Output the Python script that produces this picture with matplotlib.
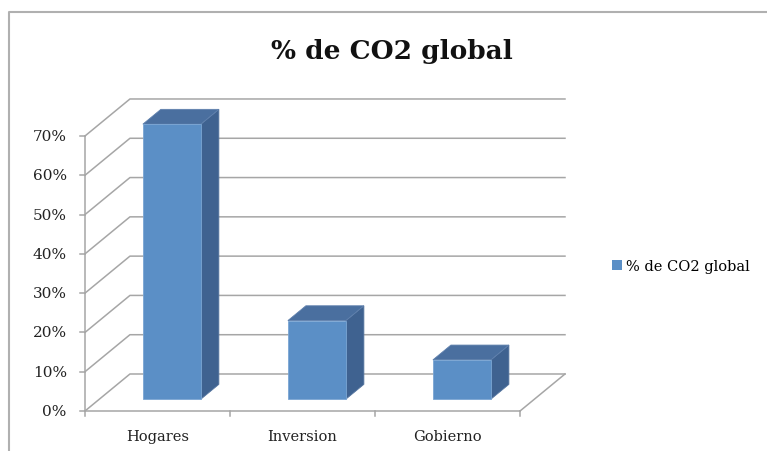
import matplotlib.pyplot as plt
from matplotlib.patches import Polygon, Patch
from matplotlib.lines import Line2D

# data
categories = ['Hogares', 'Inversion', 'Gobierno']
values = [0.70, 0.20, 0.10]
series_name = '% de CO2 global'
yticks = [0.0, 0.1, 0.2, 0.3, 0.4, 0.5, 0.6, 0.7]
ytick_labels = ['0%', '10%', '20%', '30%', '40%', '50%', '60%', '70%']

# oblique 3d look: depth offset in data units
DX, DY = 0.31, 0.0942
BAR_W = 0.40
BAR_D0, BAR_D1 = 0.32, 0.72

FRONT = '#5B8FC6'
TOP = '#4A6F9F'
SIDE = '#3F6290'
GRID = '#A6A6A6'
FONT = 'DejaVu Serif'

def proj(x, v, d):
    return (x + d * DX, v + d * DY)

fig = plt.figure(figsize=(7.67, 4.52), dpi=100)
ax = fig.add_axes([0, 0, 1, 1])
ax.set_xlim(-1.086, 4.203)
ax.set_ylim(-0.1018, 1.0487)
ax.axis('off')

x0, x1 = -0.5, len(categories) - 0.5

# walls and floor
for v in yticks:
    ax.plot(*zip(proj(x0, v, 0), proj(x0, v, 1), proj(x1, v, 1)), color=GRID, lw=1.1, zorder=1)
ax.plot(*zip(proj(x1, 0, 0), proj(x1, 0, 1)), color=GRID, lw=1.1, zorder=1)
ax.plot([x0, x1], [0, 0], color=GRID, lw=1.1, zorder=2)
ax.plot([x0, x0], [0, yticks[-1]], color=GRID, lw=1.1, zorder=2)

# ticks
for v, lab in zip(yticks, ytick_labels):
    ax.plot([x0 - 0.035, x0], [v, v], color=GRID, lw=1.1)
    ax.text(x0 - 0.125, v, lab, ha='right', va='center', fontsize=11, family=FONT, color='#222222')
for k in range(len(categories) + 1):
    ax.plot([x0 + k, x0 + k], [0, -0.013], color=GRID, lw=1.1)

# bars
for i, (cat, val) in enumerate(zip(categories, values)):
    l, r = i - BAR_W / 2, i + BAR_W / 2
    a, b = BAR_D0, BAR_D1
    front = [proj(l, 0, a), proj(r, 0, a), proj(r, val, a), proj(l, val, a)]
    side = [proj(r, 0, a), proj(r, 0, b), proj(r, val, b), proj(r, val, a)]
    top = [proj(l, val, a), proj(r, val, a), proj(r, val, b), proj(l, val, b)]
    ax.add_patch(Polygon(side, closed=True, fc=SIDE, ec='#5676A0', lw=0.6, zorder=3))
    ax.add_patch(Polygon(top, closed=True, fc=TOP, ec='#5F80AD', lw=0.6, zorder=3))
    ax.add_patch(Polygon(front, closed=True, fc=FRONT, ec='#7AA5D3', lw=0.6, zorder=4))
    ax.text(i, -0.0636, cat, ha='center', va='center', fontsize=10.5, family=FONT, color='#222222')

fig.text(392 / 767, 1 - 52 / 452, series_name, ha='center', va='center',
         fontsize=19, fontweight='bold', family=FONT, color='#111111')

fig.legend(handles=[Patch(fc=FRONT, ec='none', label=series_name)], loc='center left',
           bbox_to_anchor=(599 / 767, 1 - 267 / 452), frameon=False,
           handlelength=0.65, handleheight=0.65, handletextpad=0.3,
           prop={'family': FONT, 'size': 10.5})

# chart frame (only top and left edges visible)
fig.add_artist(Line2D([9 / 767, 9 / 767, 1], [0, 1 - 13 / 452, 1 - 13 / 452],
                      transform=fig.transFigure, color='#B0B0B0', lw=1.5))

fig.savefig('out.png', dpi=100)
